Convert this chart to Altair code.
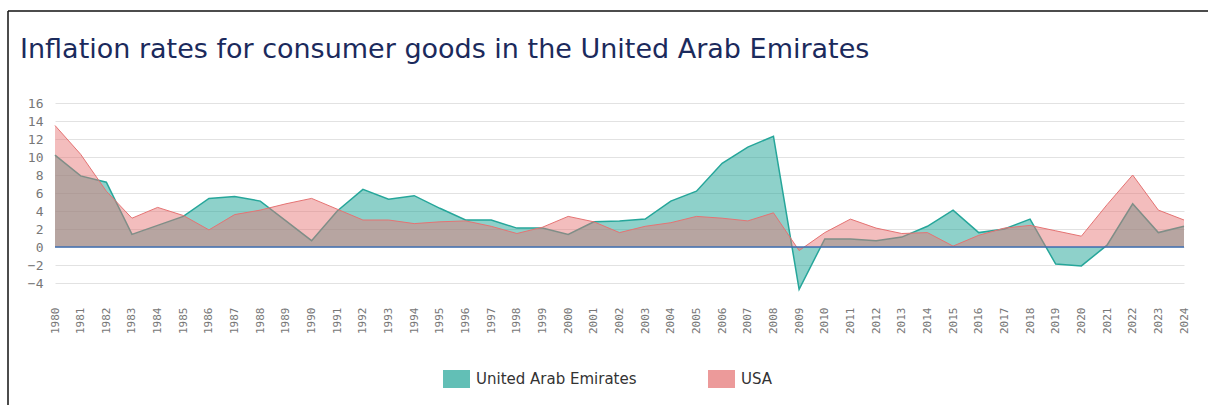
import altair as alt
import pandas as pd

years = list(range(1980, 2025))
uae = [10.2, 7.9, 7.2, 1.4, 2.4, 3.4, 5.4, 5.6, 5.1, 2.9, 0.7, 4.0, 6.4, 5.3, 5.7,
       4.3, 3.0, 3.0, 2.1, 2.1, 1.4, 2.8, 2.9, 3.1, 5.1, 6.2, 9.3, 11.1, 12.3, -4.7,
       0.9, 0.9, 0.7, 1.1, 2.3, 4.1, 1.6, 2.0, 3.1, -1.9, -2.1, 0.2, 4.8, 1.6, 2.3]
usa = [13.5, 10.3, 6.2, 3.2, 4.4, 3.5, 1.9, 3.6, 4.1, 4.8, 5.4, 4.2, 3.0, 3.0, 2.6,
       2.8, 2.9, 2.3, 1.5, 2.2, 3.4, 2.8, 1.6, 2.3, 2.7, 3.4, 3.2, 2.9, 3.8, -0.4,
       1.6, 3.1, 2.1, 1.5, 1.6, 0.1, 1.3, 2.1, 2.4, 1.8, 1.2, 4.7, 8.0, 4.1, 3.0]
series = ["United Arab Emirates", "USA"]
colors = ["#26a69a", "#e57373"]
y_ticks = list(range(-4, 17, 2))

df = pd.DataFrame({
    "year": years * 2,
    "value": uae + usa,
    "country": [series[0]] * len(years) + [series[1]] * len(years),
})

W, H = 1129, 189
PL, PT = 55, 103

color = alt.Color(
    "country:N",
    scale=alt.Scale(domain=series, range=colors),
    legend=alt.Legend(
        title=None, orient="none", direction="horizontal",
        legendX=392.5, legendY=267, padding=0,
        symbolType="M-1.5,-1H1.5V1H-1.5Z", symbolSize=324,
        symbolStrokeWidth=0, symbolOpacity=0.72,
        labelFont="DejaVu Sans", labelFontSize=15, labelColor="#333333",
        labelOffset=10.5, columnPadding=70, labelLimit=400,
    ),
)

x = alt.X("year:Q", scale=alt.Scale(domain=[1980, 2024], nice=False, zero=False),
          axis=alt.Axis(values=years, format="d", labelAngle=-90, grid=False,
                        domain=False, ticks=False, title=None,
                        labelFont="DejaVu Sans Mono", labelFontSize=11,
                        labelColor="#777777", labelPadding=15, labelOverlap=False,
                        labelFlush=False))
y_scale = alt.Scale(domain=[-5, 16], nice=False)
y_axis = alt.Axis(values=y_ticks, grid=True, gridColor="#e2e2e2",
                  domain=False, ticks=False, title=None, labelOverlap=False,
                  labelFont="DejaVu Sans Mono", labelFontSize=13,
                  labelColor="#777777", labelPadding=12)
y = alt.Y("value:Q", scale=y_scale, axis=y_axis)

base = alt.Chart(df)
uae_layer = base.transform_filter(alt.datum.country == series[0]).mark_area(
    fillOpacity=0.52, line={"strokeWidth": 1.5}).encode(x=x, y=y, color=color)
usa_layer = base.transform_filter(alt.datum.country == series[1]).mark_area(
    fillOpacity=0.47, line={"strokeWidth": 1}).encode(x=x, y=y, color=color)

one = alt.Chart(pd.DataFrame({"a": [0]}))
zero = base.transform_filter(alt.datum.year == years[0]).transform_filter(
    alt.datum.country == series[0]).transform_calculate(zero="0").mark_rule(
    color="#3f6fb2", strokeWidth=1.6).encode(
    y=alt.Y("zero:Q", scale=y_scale, axis=y_axis))
top_border = one.mark_rule(color="#111111", strokeWidth=1.5).encode(
    x=alt.value(8 - PL), x2=alt.value(1208 - PL), y=alt.value(11 - PT))
left_border = one.mark_rule(color="#111111", strokeWidth=1.5).encode(
    x=alt.value(8 - PL), y=alt.value(11 - PT), y2=alt.value(405 - PT))

chart = alt.layer(uae_layer, usa_layer, zero, top_border, left_border).properties(
    width=W, height=H,
    title=alt.TitleParams(
        text="Inflation rates for consumer goods in the United Arab Emirates",
        anchor="start", frame="group", dx=20 - PL, offset=0, dy=75,
        baseline="alphabetic", font="DejaVu Sans", fontSize=27,
        fontWeight="normal", color="#1b2a5c"),
    autosize=alt.AutoSizeParams(type="none"),
    padding={"left": PL, "top": PT, "right": 1208 - PL - W, "bottom": 405 - PT - H},
).configure_view(stroke=None)

chart.save("out.html", embed_options={"renderer": "svg", "actions": False})
